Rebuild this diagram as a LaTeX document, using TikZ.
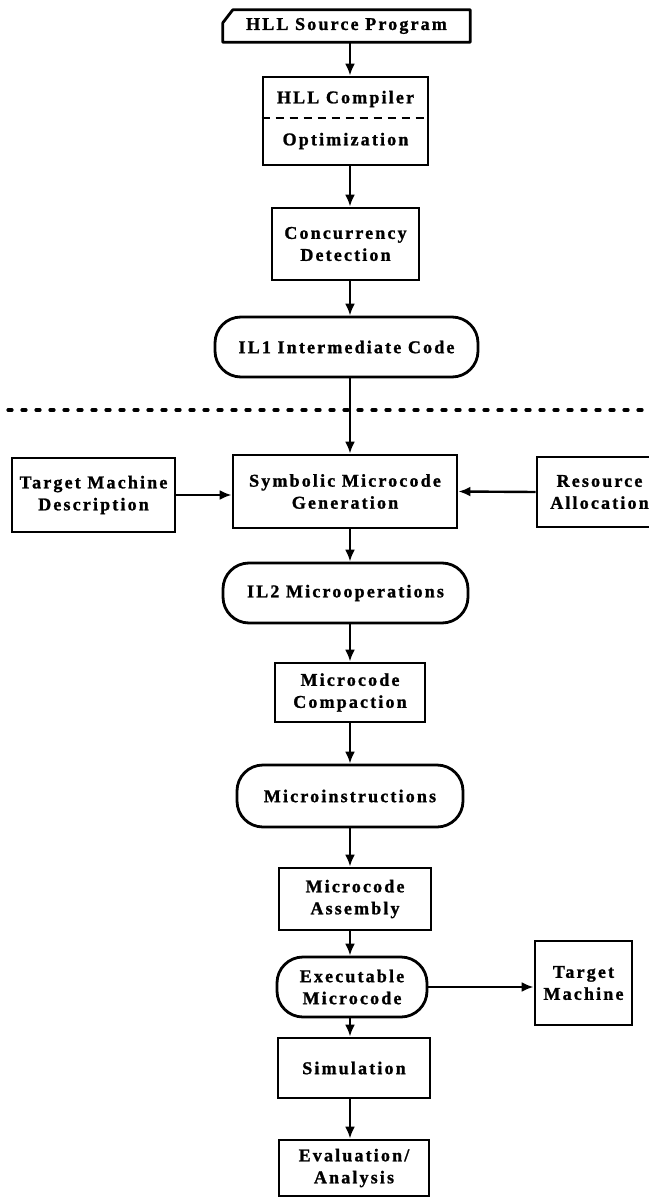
\documentclass[tikz,border=0pt]{standalone}
\usepackage{fontspec}
\setmainfont{Liberation Serif}[LetterSpace=12, FakeBold=1.2]
\usetikzlibrary{arrows.meta}
\begin{document}
\begin{tikzpicture}[x=1pt,y=-1pt,
  font=\bfseries\fontsize{18}{22}\selectfont,
  every node/.style={inner sep=0pt, align=center},
  stepbox/.style={draw, line width=2.8pt, minimum width=#1},
  termbox/.style={draw, line width=2.8pt, rounded corners=26pt, minimum width=#1},
  flow/.style={line width=2.4pt, -{Latex[length=12pt,width=10pt]}},
  divider/.style={line width=3.2pt, line cap=round, dash pattern=on 4pt off 10pt}]
\useasboundingbox (0,0) rectangle (648,1198);

% vertical axis of the main flow
\coordinate (axis) at (350,0);

% source program (card shape drawn around a plain node)
\node (card) [minimum width=247pt, minimum height=32pt] at (346.5,26) {HLL Source Program};
\draw[line width=2.8pt, line join=round] (card.south west) -- ([yshift=-13pt]card.north west)
  -- ([xshift=10pt]card.north west) -- (card.north east) -- (card.south east) -- cycle;

% compiler box, split by a dashed rule
\node (comp) [stepbox=165pt, minimum height=88pt] at (345.5,121) {};
\node (compA) at (345.5,99) {HLL Compiler};
\node (compB) at (345.5,141) {Optimization};
\draw[line width=2.4pt, dash pattern=on 8pt off 6pt] ([yshift=3pt]comp.west) -- ([yshift=3pt]comp.east);

\node (conc) [stepbox=147pt, minimum height=72pt] at (345.5,244) {Concurrency\\Detection};
\node (il1) [termbox=263pt, minimum height=60pt] at (346.5,347) {IL1 Intermediate Code};

% separator between front end and back end
\coordinate (dl) at (8,410);
\coordinate (dr) at (648,410);
\draw[divider] (dl) -- (dr);

\node (sym) [stepbox=224pt, minimum height=73pt] at (345,491.5) {Symbolic Microcode\\Generation};
\node (tmd) [stepbox=163pt, minimum height=74pt] at (93.5,495) {Target Machine\\Description};
\node (res) [stepbox=125pt, minimum height=70pt] at (599.5,492) {Resource\\Allocation};

\node (il2) [termbox=245pt, minimum height=60pt] at (345.5,593) {IL2 Microoperations};
\node (cmp) [stepbox=150pt, minimum height=59pt] at (350,692.5) {Microcode\\Compaction};
\node (mi) [termbox=226pt, minimum height=62pt] at (350,796) {Microinstructions};
\node (asm) [stepbox=152pt, minimum height=62pt] at (355,899) {Microcode\\Assembly};
\node (exe) [termbox=150pt, minimum height=60pt] at (352,987) {Executable\\Microcode};
\node (tm) [stepbox=97pt, minimum height=84pt] at (583.5,983) {Target\\Machine};
\node (sim) [stepbox=152pt, minimum height=60pt] at (354,1068) {Simulation};
\node (eva) [stepbox=150pt, minimum height=56pt] at (354,1168) {Evaluation/\\Analysis};

% main flow
\foreach \a/\b in {card/comp, comp/conc, conc/il1, il1/sym, sym/il2, il2/cmp,
                   cmp/mi, mi/asm, asm/exe, exe/sim, sim/eva}
  \draw[flow] (\a.south -| axis) -- (\b.north -| axis);

% side inputs and output
\draw[flow] (tmd.east) -- (tmd.east -| sym.west);
\draw[flow] (res.west) -- (sym.east);
\draw[flow] (exe.east) -- (exe.east -| tm.west);
\end{tikzpicture}
\end{document}
